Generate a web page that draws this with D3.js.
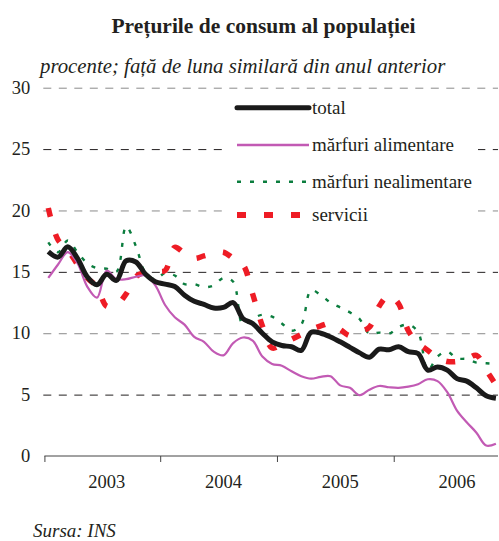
<!DOCTYPE html>
<html>
<head>
<meta charset="utf-8">
<script src="https://cdn.jsdelivr.net/npm/d3@7"></script>
</head>
<body style="margin:0; background:#fff">
<svg id="chart" width="499" height="541"></svg>
<script>
const years = ['2003', '2004', '2005', '2006'];
const luni = ['ian', 'feb', 'mar', 'apr', 'mai', 'iun', 'iul', 'aug', 'sep', 'oct', 'nov', 'dec'];
// ian 2003 - nov 2006
const months = years.flatMap(y => luni.map(l => l + ' ' + y)).slice(0, 47);

const yTicks = [0, 5, 10, 15, 20, 25, 30];

const total = [
  16.65, 16.2, 17.05, 16.1, 14.6, 13.95, 14.8, 14.3, 15.9, 15.8, 14.8, 14.2,
  14.0, 13.8, 13.1, 12.6, 12.35, 12.05, 12.1, 12.5, 11.2, 10.8, 10.0, 9.3,
  9.0, 8.9, 8.6, 10.07, 10.0, 9.7, 9.3, 8.85, 8.4, 8.05, 8.7, 8.65,
  8.9, 8.5, 8.35, 7.0, 7.25, 7.0, 6.3, 6.1, 5.55, 4.9, 4.7
];
const alimentare = [
  14.5, 15.6, 16.6, 15.7, 13.8, 12.9, 15.1, 14.4, 14.4, 14.6, 14.7, 13.9,
  12.3, 11.3, 10.7, 9.7, 9.3, 8.5, 8.2, 9.2, 9.65, 9.4, 8.1, 7.5,
  7.35, 6.9, 6.5, 6.3, 6.45, 6.5, 5.75, 5.55, 4.95, 5.4, 5.7, 5.6,
  5.55, 5.65, 5.85, 6.25, 6.1, 5.2, 3.7, 2.75, 1.9, 0.85, 1.0
];
const nealimentare = [
  17.4, 16.6, 17.55, 16.6, 15.7, 15.3, 15.25, 15.0, 18.7, 17.1, 14.9, 14.4,
  14.9, 14.7, 14.0, 14.0, 13.75, 13.9, 14.5, 14.2, 10.7, 11.2, 11.5, 11.35,
  10.8, 10.2, 10.7, 13.5, 13.1, 12.5, 12.1, 11.7, 11.15, 9.95, 10.05, 9.95,
  10.5, 10.7, 10.1, 7.0, 8.1, 8.5, 7.95, 7.9, 7.6, 7.55, 7.5
];
const servicii = [
  20.2, 17.6, 16.8, 15.6, 14.5, 13.8, 12.2, 12.3, 13.2, 14.6, 15.0, 15.05,
  15.1, 17.0, 16.5, 16.1, 16.3, 16.5, 16.6, 16.1, 15.6, 13.2, 10.6, 8.8,
  9.1, 9.5, 9.9, 10.3, 10.6, 10.8, 10.3, 9.8, 10.1, 10.5, 12.2, 13.1,
  12.4, 10.2, 9.2, 8.6, 8.0, 7.7, 7.7, 7.9, 8.2, 7.0, 5.8
];

const series = [
  { name: 'total', values: total, color: '#1a1a1a', width: 5, dash: null },
  { name: 'mărfuri alimentare', values: alimentare, color: '#c25ab4', width: 2.2, dash: null },
  { name: 'mărfuri nealimentare', values: nealimentare, color: '#0b7d3e', width: 2.4, dash: '4,9' },
  { name: 'servicii', values: servicii, color: '#ee1c25', width: 5.5, dash: '9,18' }
];

const FONT = 'Liberation Serif';
const INK = '#231f20';

const svg = d3.select('svg#chart');

const left = 43.3, right = 498;
const x = d3.scaleLinear().domain([0, months.length - 1]).range([48.3, 495.9]);
const y = d3.scaleLinear().domain([0, 30]).range([456, 87.7]);

svg.append('text')
  .attr('font-family', FONT)
  .attr('font-size', 21.5)
  .attr('font-weight', 'bold')
  .attr('fill', INK)
  .attr('x', 263.5)
  .attr('y', 33)
  .attr('text-anchor', 'middle')
  .text('Prețurile de consum al populației');

svg.append('text')
  .attr('font-family', FONT)
  .attr('font-size', 20.8)
  .attr('font-style', 'italic')
  .attr('fill', INK)
  .attr('x', 40)
  .attr('y', 73)
  .text('procente; față de luna similară din anul anterior');

// grid + y labels
const yAxis = svg.append('g')
  .attr('transform', `translate(${left}, 0)`)
  .call(d3.axisLeft(y).tickValues(yTicks).tickSize(-(right - left)).tickPadding(13).tickFormat(d3.format('d')));
yAxis.attr('font-family', FONT).attr('font-size', 18.5);
yAxis.select('.domain').remove();
yAxis.selectAll('.tick line')
  .attr('stroke', d => d % 10 === 0 ? '#8a8a8a' : INK)
  .attr('stroke-width', 1)
  .attr('stroke-dasharray', '8,7.5')
  .filter(d => d === 0).remove();
yAxis.selectAll('.tick text')
  .attr('fill', INK)
  .attr('dy', '0.3em');

// legend background covers grid
svg.append('rect')
  .attr('x', 222).attr('y', 93)
  .attr('width', 256).attr('height', 135)
  .attr('fill', '#fff');

// x axis
const xAxis = svg.append('g')
  .attr('transform', `translate(0, ${y(0)})`)
  .call(d3.axisBottom(x)
    .tickValues([-0.4, 11.5, 23.5, 35.5])
    .tickSize(6)
    .tickSizeOuter(0)
    .tickFormat(''));
xAxis.select('.domain').attr('d', `M${x(-0.4)},0H${right}`).attr('stroke', '#444');
xAxis.selectAll('.tick line').attr('stroke', '#444');

svg.selectAll('.year')
  .data(years)
  .enter()
  .append('text')
  .attr('font-family', FONT)
  .attr('font-size', 18.5)
  .attr('fill', INK)
  .attr('x', (d, i) => x(i * 12 + 6))
  .attr('y', 488)
  .attr('text-anchor', 'middle')
  .text(d => d);

const line = d3.line()
  .x((d, i) => x(i))
  .y(d => y(d))
  .curve(d3.curveCatmullRom.alpha(0.5));

// draw order: green, red, pink, black on top
[series[2], series[3], series[1], series[0]].forEach(s => {
  svg.append('path')
    .datum(s.values)
    .attr('fill', 'none')
    .attr('stroke', s.color)
    .attr('stroke-width', s.width)
    .attr('stroke-dasharray', s.dash)
    .attr('stroke-linejoin', 'round')
    .attr('d', line);
});

// legend
const legY = [107.7, 145, 181.7, 215];
const leg = svg.selectAll('.legitem')
  .data(series)
  .enter()
  .append('g');
leg.append('line')
  .attr('x1', 237).attr('x2', 309)
  .attr('y1', (d, i) => legY[i]).attr('y2', (d, i) => legY[i])
  .attr('stroke', d => d.color)
  .attr('stroke-width', d => d.name === 'servicii' ? 6 : (d.name === 'total' ? 5 : 2.5))
  .attr('stroke-dasharray', d => d.dash)
  .attr('stroke-linecap', d => d.name === 'total' ? 'round' : 'butt');
leg.append('text')
  .attr('font-family', FONT)
  .attr('font-size', 19)
  .attr('fill', INK)
  .attr('x', 312)
  .attr('y', (d, i) => legY[i] + 6)
  .text(d => d.name);

svg.append('text')
  .attr('font-family', FONT)
  .attr('font-size', 19)
  .attr('font-style', 'italic')
  .attr('fill', INK)
  .attr('x', 33)
  .attr('y', 537)
  .text('Sursa: INS');
</script>
</body>
</html>
